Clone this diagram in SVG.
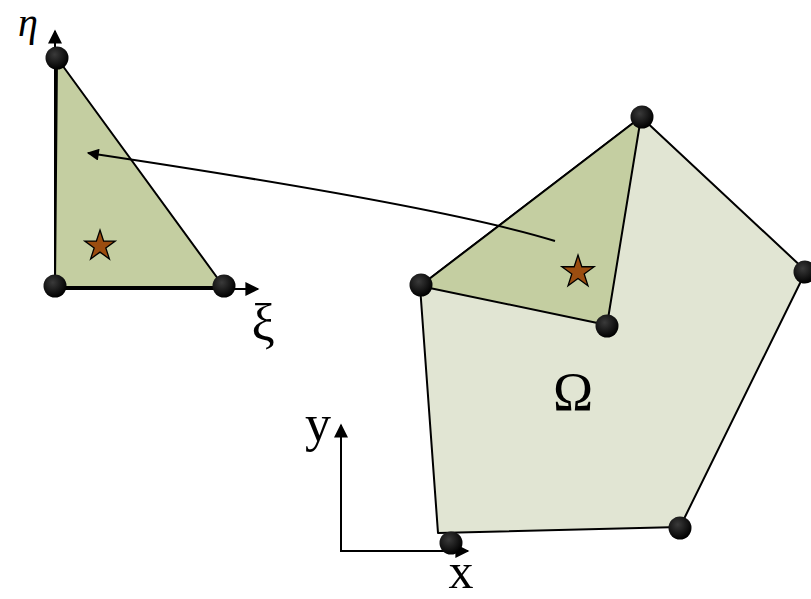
<svg xmlns="http://www.w3.org/2000/svg" width="811" height="599" viewBox="0 0 811 599">
<defs>
<radialGradient id="dotg" cx="0.4" cy="0.35" r="0.65">
<stop offset="0" stop-color="#3a3a3a"/>
<stop offset="1" stop-color="#000"/>
</radialGradient>
<marker id="ah" viewBox="0 0 10 10" refX="9" refY="5" markerWidth="15" markerHeight="14" markerUnits="userSpaceOnUse" orient="auto">
<path d="M0,0 L10,5 L0,10 Z" fill="#000"/>
</marker>
<marker id="ah2" viewBox="0 0 10 10" refX="9" refY="5" markerWidth="13" markerHeight="12" markerUnits="userSpaceOnUse" orient="auto">
<path d="M0,0 L10,5 L0,10 Z" fill="#000"/>
</marker>
</defs>
<style>
.edge{stroke:#000;stroke-width:2;stroke-linejoin:round}
.light{fill:#e1e5d3}
.green{fill:#c4cea1}
.dot{fill:url(#dotg)}
.star{fill:#9b4d10;stroke:#000;stroke-width:1.3;stroke-linejoin:miter}
.lbl{font-family:"Liberation Serif","DejaVu Serif",serif;fill:#000}
.axis{stroke:#000;stroke-width:2;fill:none}
</style>
<rect width="811" height="599" fill="#fff"/>
<g id="reference-triangle">
<polygon class="edge green" points="57,58 55,287 224,287"/>
</g>
<g id="domain">
<polygon class="edge light" points="420,286 641,117 806,271 680,527 438,533"/>
<polygon class="edge green" points="420,286 641,117 607,325"/>
</g>
<g id="axes">
<line class="axis" x1="55" y1="287" x2="55" y2="31" marker-end="url(#ah)"/>
<line class="axis" x1="55" y1="289" x2="258" y2="289" marker-end="url(#ah)"/>
<line class="axis" x1="341" y1="551" x2="341" y2="425" marker-end="url(#ah)"/>
<line class="axis" x1="340" y1="551" x2="468" y2="551" marker-end="url(#ah)"/>
</g>
<g id="connectors">
<path class="axis" d="M555,241 Q442,206 88,153" marker-end="url(#ah2)"/>
</g>
<g id="stars">
<polygon class="star" points="100,230 103.59,241.06 115.22,241.06 105.81,247.89 109.40,258.94 100,252.11 90.60,258.94 94.19,247.89 84.78,241.06 96.41,241.06"/>
<polygon class="star" points="578,255 581.82,266.75 594.17,266.75 584.18,274.01 587.99,285.75 578,278.49 568.01,285.75 571.82,274.01 561.83,266.75 574.18,266.75"/>
</g>
<g id="nodes">
<circle class="dot" cx="57" cy="58" r="11.5"/>
<circle class="dot" cx="55" cy="286" r="11.5"/>
<circle class="dot" cx="224" cy="286" r="11.5"/>
<circle class="dot" cx="642" cy="117" r="11.5"/>
<circle class="dot" cx="805" cy="272" r="11.5"/>
<circle class="dot" cx="421" cy="285" r="11.5"/>
<circle class="dot" cx="607" cy="326" r="11.5"/>
<circle class="dot" cx="680" cy="528" r="11.5"/>
<circle class="dot" cx="451" cy="543" r="11.5"/>
</g>
<g id="labels">
<text class="lbl" x="28" y="36" font-size="40" font-style="italic" text-anchor="middle">η</text>
<text class="lbl" x="263" y="340" font-size="52" text-anchor="middle">ξ</text>
<text class="lbl" x="573" y="410" font-size="54" text-anchor="middle">Ω</text>
<text class="lbl" x="318" y="441" font-size="52" text-anchor="middle">y</text>
<text class="lbl" x="461" y="588" font-size="50" text-anchor="middle">x</text>
</g>
</svg>
